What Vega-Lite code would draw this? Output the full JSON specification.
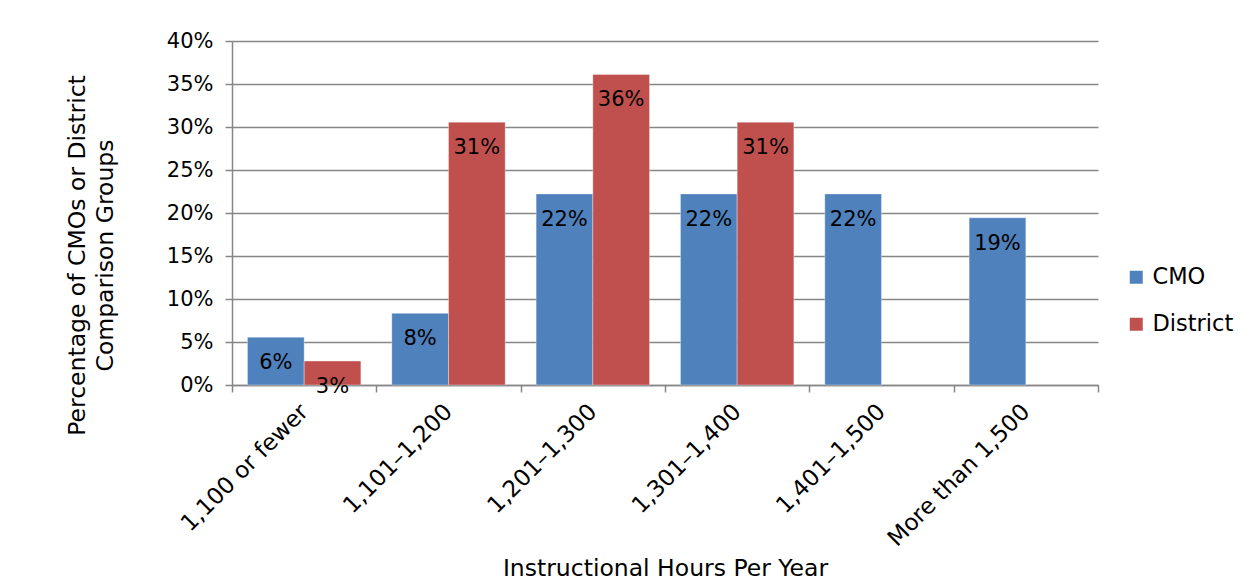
{
  "$schema": "https://vega.github.io/schema/vega-lite/v6.json",
  "width": 866,
  "height": 344,
  "autosize": {"type": "none"},
  "padding": {"left": 232, "top": 41, "right": 149, "bottom": 197},
  "background": "white",
  "config": {
    "font": "DejaVu Sans",
    "view": {"stroke": null},
    "axis": {"labelFont": "DejaVu Sans", "titleFont": "DejaVu Sans", "labelColor": "black", "titleColor": "black", "titleFontWeight": "normal"}
  },
  "data": {
    "values": [
      {"range": "1,100 or fewer", "group": "CMO", "pct": 0.0556},
      {"range": "1,100 or fewer", "group": "District", "pct": 0.0278},
      {"range": "1,101–1,200", "group": "CMO", "pct": 0.0833},
      {"range": "1,101–1,200", "group": "District", "pct": 0.3056},
      {"range": "1,201–1,300", "group": "CMO", "pct": 0.2222},
      {"range": "1,201–1,300", "group": "District", "pct": 0.3611},
      {"range": "1,301–1,400", "group": "CMO", "pct": 0.2222},
      {"range": "1,301–1,400", "group": "District", "pct": 0.3056},
      {"range": "1,401–1,500", "group": "CMO", "pct": 0.2222},
      {"range": "More than 1,500", "group": "CMO", "pct": 0.1944}
    ]
  },
  "encoding": {
    "x": {
      "field": "range", "type": "nominal",
      "sort": ["1,100 or fewer", "1,101–1,200", "1,201–1,300", "1,301–1,400", "1,401–1,500", "More than 1,500"],
      "scale": {"paddingInner": 0, "paddingOuter": 0},
      "axis": {
        "title": "Instructional Hours Per Year",
        "titleFontSize": 23.5, "titleY": 183, "titleBaseline": "middle",
        "labelAngle": -45, "labelFontSize": 23, "labelPadding": 8, "labelOffset": -8, "labelLimit": 400,
        "domainColor": "#868686", "domainWidth": 1.5,
        "tickColor": "#868686", "tickWidth": 1.5, "tickSize": 7, "tickBand": "extent",
        "grid": false
      }
    },
    "xOffset": {"field": "group", "type": "nominal", "scale": {"domain": ["CMO", "District"], "paddingInner": 0, "paddingOuter": 0.2727}},
    "y": {
      "field": "pct", "type": "quantitative",
      "scale": {"domain": [0, 0.4], "nice": false},
      "axis": {
        "title": ["Percentage of CMOs or District", "Comparison Groups"],
        "titleFontSize": 23.5, "titleX": -143, "titleY": 214, "titleAlign": "center", "titleLineHeight": 28,
        "values": [0, 0.05, 0.1, 0.15, 0.2, 0.25, 0.3, 0.35, 0.4],
        "format": ".0%", "labelFontSize": 21, "labelPadding": 12,
        "domainColor": "#868686", "domainWidth": 1.5,
        "tickColor": "#868686", "tickWidth": 1.5, "tickSize": 7,
        "grid": true, "gridColor": "#868686", "gridWidth": 1.5
      }
    }
  },
  "layer": [
    {
      "mark": {"type": "bar", "stroke": "white", "strokeOpacity": 0.35, "strokeWidth": 1},
      "encoding": {
        "color": {
          "field": "group", "type": "nominal",
          "scale": {"domain": ["CMO", "District"], "range": ["#4F81BD", "#C0504D"]},
          "legend": {
            "title": null, "orient": "none", "legendX": 893, "legendY": 225,
            "symbolType": "square", "symbolSize": 169, "symbolStrokeWidth": 0,
            "labelFontSize": 22.5, "labelFont": "DejaVu Sans", "labelColor": "black",
            "rowPadding": 24, "labelOffset": 5
          }
        }
      }
    },
    {
      "mark": {"type": "text", "baseline": "middle", "dy": 26, "fontSize": 21, "color": "black", "font": "DejaVu Sans"},
      "encoding": {
        "text": {"field": "pct", "type": "quantitative", "format": ".0%"}
      }
    }
  ]
}
